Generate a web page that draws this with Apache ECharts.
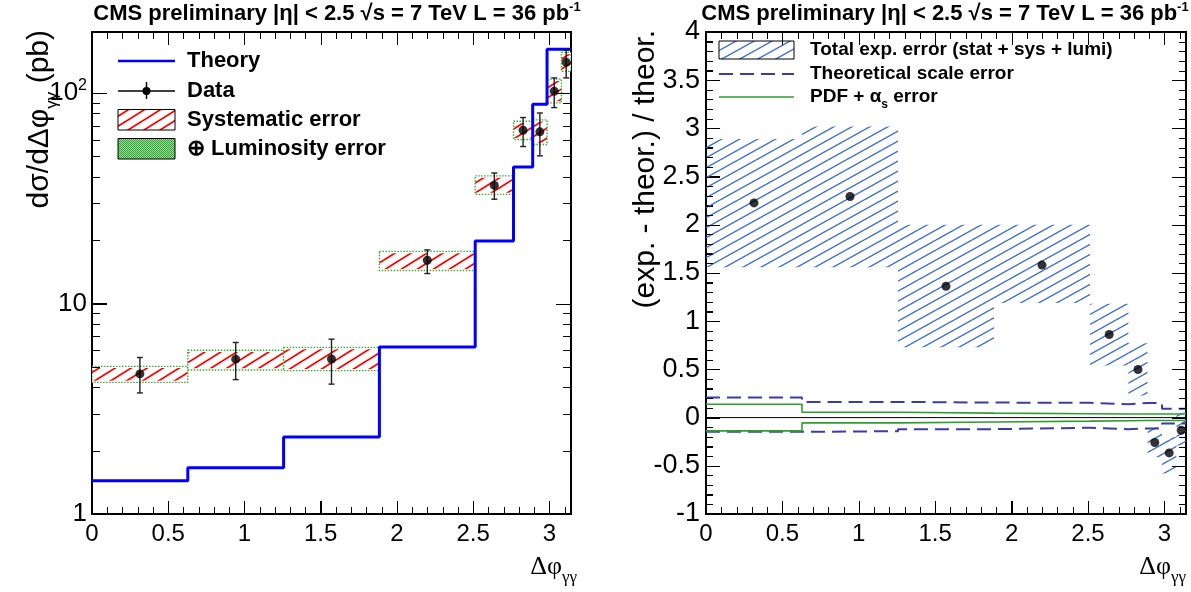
<!DOCTYPE html>
<html>
<head>
<meta charset="utf-8">
<script src="https://cdn.jsdelivr.net/npm/echarts@6/dist/echarts.min.js"></script>
<style>
  html, body { margin: 0; padding: 0; background: #fff; }
  #chart { width: 1191px; height: 592px; }
</style>
</head>
<body>
<div id="chart"></div>
<script>
const PI = Math.PI;

// Bin edges of Δφγγ, in units of π
const binEdgesPi = [0, 0.2, 0.4, 0.6, 0.8, 0.88, 0.92, 0.95, 0.98, 1.0];

// Left panel: dσ/dΔφγγ (pb)
const theoryXsec = [1.44, 1.66, 2.32, 6.22, 19.8, 44.5, 88.5, 161.5, 161.5];
const dataXsec   = [4.63, 5.44, 5.45, 16.06, 36.4, 66.6, 65.4, 102, 140];
const statLow    = [3.76, 4.35, 4.14, 13.88, 31.3, 55.7, 50.3, 85.3, 118];
const statHigh   = [5.54, 6.53, 6.77, 17.98, 41.7, 76.5, 80.4, 118, 159.7];
const sysLow     = [4.30, 4.92, 4.89, 14.6, 33.6, 61.2, 58.0, 91.5, 129.0];
const sysHigh    = [4.94, 5.88, 6.07, 17.35, 39.6, 72.0, 73.2, 114, 153];
const lumiLow    = [4.22, 4.83, 4.80, 14.35, 33.0, 60.2, 57.0, 89.8, 126.8];
const lumiHigh   = [5.03, 6.00, 6.19, 17.7, 40.4, 73.4, 74.6, 116.5, 156];

// Right panel: (exp. - theor.) / theor.
const ratioData    = [2.227, 2.293, 1.363, 1.582, 0.862, 0.499, -0.258, -0.366, -0.131];
const expErrLow    = [1.56, 1.56, 0.73, 1.19, 0.54, 0.23, -0.41, -0.58, -0.29];
const expErrHigh   = [2.89, 3.02, 2.00, 2.00, 1.18, 0.77, -0.10, -0.20, 0.05];
const scaleErrUp   = [0.209, 0.163, 0.156, 0.153, 0.139, 0.152, 0.152, 0.092, 0.092];
const scaleErrDown = [-0.148, -0.141, -0.120, -0.105, -0.120, -0.113, -0.113, -0.060, -0.060];
const pdfErrUp     = [0.139, 0.056, 0.046, 0.040, 0.037, 0.037, 0.037, 0.037, 0.037];
const pdfErrDown   = [-0.138, -0.055, -0.045, -0.037, -0.032, -0.030, -0.030, -0.030, -0.030];

// Axis tick values
const xMajorTicks = [0, 0.5, 1, 1.5, 2, 2.5, 3];
const xMinorTicks = [0.1, 0.2, 0.3, 0.4, 0.6, 0.7, 0.8, 0.9, 1.1, 1.2, 1.3, 1.4, 1.6, 1.7, 1.8, 1.9,
                     2.1, 2.2, 2.3, 2.4, 2.6, 2.7, 2.8, 2.9, 3.1];
const logMajorTicks = [10, 100];
const logMinorTicks = [2, 3, 4, 5, 6, 7, 8, 9, 20, 30, 40, 50, 60, 70, 80, 90];
const ratioTicks = [-0.9, -0.8, -0.7, -0.6, -0.5, -0.4, -0.3, -0.2, -0.1, 0, 0.1, 0.2, 0.3, 0.4, 0.5, 0.6, 0.7, 0.8, 0.9,
                    1, 1.1, 1.2, 1.3, 1.4, 1.5, 1.6, 1.7, 1.8, 1.9, 2, 2.1, 2.2, 2.3, 2.4, 2.5, 2.6, 2.7, 2.8, 2.9,
                    3, 3.1, 3.2, 3.3, 3.4, 3.5, 3.6, 3.7, 3.8, 3.9];
const yLogMax = 195;

const SANS = '"Liberation Sans", Arial, Helvetica, sans-serif';
const SERIF = '"Liberation Serif", "Times New Roman", serif';

const binEdges = binEdgesPi.map(f => f * PI);
const nBins = binEdges.length - 1;
const binCenters = [];
for (let i = 0; i < nBins; i++) binCenters.push((binEdges[i] + binEdges[i + 1]) / 2);

// ---- fill patterns ----
function hatchPattern(w, h, color, lw) {
  const c = document.createElement('canvas');
  c.width = w; c.height = h;
  const ctx = c.getContext('2d');
  ctx.strokeStyle = color;
  ctx.lineWidth = lw;
  for (const [dx, dy] of [[0, 0], [-w, 0], [w, 0], [0, -h], [0, h]]) {
    ctx.beginPath();
    ctx.moveTo(dx, h + dy);
    ctx.lineTo(w + dx, dy);
    ctx.stroke();
  }
  return { image: c, repeat: 'repeat' };
}
function checkerPattern(c1, c2) {
  const c = document.createElement('canvas');
  c.width = 2; c.height = 2;
  const ctx = c.getContext('2d');
  ctx.fillStyle = c2; ctx.fillRect(0, 0, 2, 2);
  ctx.fillStyle = c1; ctx.fillRect(0, 0, 1, 1); ctx.fillRect(1, 1, 1, 1);
  return { image: c, repeat: 'repeat' };
}
const redHatch = hatchPattern(16, 10, '#ff0000', 1.8);
const blueHatch = hatchPattern(18, 10, '#3b6fd4', 1.4);
const greenChecker = checkerPattern('#2e9e2e', '#9ee09e');

// ---- panels: the grid border draws the frame, bottom and left axes carry the labels ----
const PANELS = [
  { left: 92, top: 32, width: 479, height: 482 },
  { left: 706, top: 32, width: 480, height: 482 }
];
const frameLine = () => ({ show: true, onZero: false, lineStyle: { color: '#000', width: 2 } });

const xAxes = PANELS.map((p, gi) => ({
  gridIndex: gi, type: 'value', min: 0, max: PI, position: 'bottom', splitLine: { show: false },
  axisLine: frameLine(),
  axisTick: { show: true, inside: true, length: 13, customValues: xMajorTicks, lineStyle: { color: '#000', width: 1 } },
  axisLabel: { show: true, customValues: xMajorTicks, formatter: v => String(v),
               fontSize: 24, color: '#000', fontFamily: SANS, margin: 8 }
}));

const logLabel = v => {
  const r = Math.round(v);
  if (r === 1) return '1';
  if (r === 10) return '10';
  if (r === 100) return '10{sup|2}';
  return '';
};

const yAxes = [
  { gridIndex: 0, type: 'log', logBase: 10, min: 1, max: yLogMax, position: 'left', splitLine: { show: false },
    axisLine: frameLine(),
    axisTick: { show: true, inside: true, length: 15, lineStyle: { color: '#000', width: 1 } },
    axisLabel: { show: true, showMaxLabel: false, formatter: logLabel, fontSize: 26, color: '#000',
                 fontFamily: SANS, margin: 5,
                 rich: { sup: { fontSize: 16, verticalAlign: 'top', lineHeight: 30, fontFamily: SANS, color: '#000' } } } },
  { gridIndex: 1, type: 'value', min: -1, max: 4, interval: 0.5, position: 'left', splitLine: { show: false },
    axisLine: frameLine(),
    axisTick: { show: true, inside: true, length: 14, lineStyle: { color: '#000', width: 1 } },
    minorTick: { show: true, splitNumber: 5, length: 7, lineStyle: { color: '#000', width: 1 } },
    axisLabel: { show: true, formatter: v => String(v), fontSize: 27, color: '#000', fontFamily: SANS, margin: 6 } }
];

// ---- series ----
function stepData(values) {
  const d = values.map((v, i) => [binEdges[i], v]);
  d.push([binEdges[nBins], values[nBins - 1]]);
  return d;
}
function stepLine(name, gi, values, color, width, dash) {
  return {
    name, type: 'line', xAxisIndex: gi, yAxisIndex: gi, step: 'end',
    data: stepData(values), symbol: 'none', silent: true, z: 4,
    lineStyle: { color, width, type: dash || 'solid' }
  };
}
const binRows = binCenters.map((c, i) => [i, c]);

const series = [
  // systematic (hatched) and luminosity (dotted green) boxes
  {
    type: 'custom', xAxisIndex: 0, yAxisIndex: 0, silent: true, z: 2, clip: true,
    data: binRows,
    renderItem: (params, api) => {
      const i = api.value(0);
      const x0 = binEdges[i], x1 = binEdges[i + 1];
      const lTop = api.coord([x0, lumiHigh[i]]), lBot = api.coord([x1, lumiLow[i]]);
      const sTop = api.coord([x0, sysHigh[i]]), sBot = api.coord([x1, sysLow[i]]);
      return { type: 'group', children: [
        { type: 'rect', shape: { x: lTop[0], y: lTop[1], width: lBot[0] - lTop[0], height: lBot[1] - lTop[1] },
          style: { fill: '#fff' } },
        { type: 'rect', shape: { x: sTop[0], y: sTop[1], width: sBot[0] - sTop[0], height: sBot[1] - sTop[1] },
          style: { fill: redHatch } },
        { type: 'rect', shape: { x: lTop[0], y: lTop[1], width: lBot[0] - lTop[0], height: lBot[1] - lTop[1] },
          style: { fill: 'none', stroke: '#33b033', lineWidth: 1.4, lineDash: [1.5, 1.5] } }
      ] };
    }
  },
  stepLine('Theory', 0, theoryXsec, '#0000ff', 3),
  // statistical error bars
  {
    type: 'custom', xAxisIndex: 0, yAxisIndex: 0, silent: true, z: 5,
    data: binRows,
    renderItem: (params, api) => {
      const i = api.value(0);
      const x = binCenters[i];
      const pT = api.coord([x, statHigh[i]]), pB = api.coord([x, statLow[i]]);
      const st = { stroke: '#222', lineWidth: 1.4 };
      return { type: 'group', children: [
        { type: 'line', shape: { x1: pT[0], y1: pT[1], x2: pB[0], y2: pB[1] }, style: st },
        { type: 'line', shape: { x1: pT[0] - 3, y1: pT[1], x2: pT[0] + 3, y2: pT[1] }, style: st },
        { type: 'line', shape: { x1: pB[0] - 3, y1: pB[1], x2: pB[0] + 3, y2: pB[1] }, style: st }
      ] };
    }
  },
  {
    name: 'Data', type: 'scatter', xAxisIndex: 0, yAxisIndex: 0, z: 6, silent: true,
    data: dataXsec.map((v, i) => [binCenters[i], v]),
    symbol: 'circle', symbolSize: 9, itemStyle: { color: '#000' }
  },

  // total experimental error bands
  {
    type: 'custom', xAxisIndex: 1, yAxisIndex: 1, silent: true, z: 2, clip: true,
    data: binRows,
    renderItem: (params, api) => {
      const i = api.value(0);
      const pT = api.coord([binEdges[i], expErrHigh[i]]);
      const pB = api.coord([binEdges[i + 1], expErrLow[i]]);
      return { type: 'rect', shape: { x: pT[0], y: pT[1], width: pB[0] - pT[0], height: pB[1] - pT[1] },
               style: { fill: blueHatch } };
    }
  },
  {
    type: 'line', xAxisIndex: 1, yAxisIndex: 1, silent: true, z: 3, symbol: 'none',
    data: [[0, 0], [PI, 0]], lineStyle: { color: '#000', width: 1 }
  },
  stepLine('Theoretical scale error', 1, scaleErrUp, '#3c3ca8', 2, [14, 7]),
  stepLine('Theoretical scale error', 1, scaleErrDown, '#3c3ca8', 2, [14, 7]),
  stepLine('PDF + αs error', 1, pdfErrUp, '#2e9e2e', 1.6),
  stepLine('PDF + αs error', 1, pdfErrDown, '#2e9e2e', 1.6),
  {
    type: 'scatter', xAxisIndex: 1, yAxisIndex: 1, z: 6, silent: true,
    data: ratioData.map((v, i) => [binCenters[i], v]),
    symbol: 'circle', symbolSize: 9, itemStyle: { color: '#000' }
  }
];

// ---- titles, axis names and legends ----
const supRich = { sup: { fontSize: 13, verticalAlign: 'top', lineHeight: 26, fontWeight: 'bold', fontFamily: SANS, fill: '#000' } };
function titleText(x) {
  return {
    type: 'text', x, y: 14,
    style: { text: 'CMS preliminary |η| < 2.5 √s = 7 TeV L = 36 pb{sup|-1}', fill: '#000',
             fontWeight: 'bold', fontSize: 22, fontFamily: SANS,
             align: 'center', verticalAlign: 'middle', rich: supRich }
  };
}
const subRich = (size, subSize, fam) => ({
  sub: { fontSize: subSize, fontFamily: fam, verticalAlign: 'bottom', lineHeight: size + 12, fill: '#000' },
  n: { fontSize: size, fontFamily: fam, verticalAlign: 'middle', lineHeight: size + 12, fill: '#000' } });

const leftLegendText = (y, txt) => ({
  type: 'text', x: 187, y,
  style: { text: txt, fill: '#000', fontSize: 22, fontWeight: 'bold', fontFamily: SANS, verticalAlign: 'middle' }
});
const rightLegendText = (y, txt, rich) => ({
  type: 'text', x: 810, y,
  style: { text: txt, fill: '#000', fontSize: 19, fontWeight: 'bold', fontFamily: SANS, verticalAlign: 'middle', rich }
});

const graphics = [
  titleText(337),
  titleText(945),
  { type: 'text', x: 40, y: 30, rotation: PI / 2,
    style: { text: '{n|dσ/dΔφ}{sub|γγ}{n| (pb)}', align: 'right', verticalAlign: 'middle', rich: subRich(30, 17, SANS) } },
  { type: 'text', x: 646, y: 30, rotation: PI / 2,
    style: { text: '(exp. - theor.) / theor.', align: 'right', verticalAlign: 'middle', fill: '#000',
             fontSize: 30, fontFamily: SANS } },
  { type: 'text', x: 577, y: 567,
    style: { text: '{n|Δφ}{sub|γγ}', align: 'right', verticalAlign: 'middle', rich: subRich(26, 17, SERIF) } },
  { type: 'text', x: 1186, y: 567,
    style: { text: '{n|Δφ}{sub|γγ}', align: 'right', verticalAlign: 'middle', rich: subRich(26, 17, SERIF) } },

  { type: 'line', shape: { x1: 118, y1: 61, x2: 175, y2: 61 }, style: { stroke: '#0000ff', lineWidth: 2.5 } },
  leftLegendText(61, 'Theory'),
  { type: 'line', shape: { x1: 118, y1: 91, x2: 175, y2: 91 }, style: { stroke: '#000', lineWidth: 1.5 } },
  { type: 'line', shape: { x1: 146.5, y1: 82, x2: 146.5, y2: 99 }, style: { stroke: '#000', lineWidth: 1.5 } },
  { type: 'circle', shape: { cx: 146.5, cy: 91, r: 4 }, style: { fill: '#000' } },
  leftLegendText(91, 'Data'),
  { type: 'rect', shape: { x: 118, y: 109.5, width: 57, height: 20.5 }, style: { fill: redHatch, stroke: '#000', lineWidth: 1 } },
  leftLegendText(120, 'Systematic error'),
  { type: 'rect', shape: { x: 118, y: 138.5, width: 57, height: 20.5 }, style: { fill: greenChecker, stroke: '#000', lineWidth: 1 } },
  leftLegendText(149, '⊕ Luminosity error'),

  { type: 'rect', shape: { x: 719, y: 41, width: 75, height: 18 }, style: { fill: blueHatch, stroke: '#000', lineWidth: 1 } },
  rightLegendText(50, 'Total exp. error (stat + sys + lumi)'),
  { type: 'line', shape: { x1: 719, y1: 74, x2: 794, y2: 74 }, style: { stroke: '#3c3ca8', lineWidth: 2, lineDash: [14, 7] } },
  rightLegendText(74, 'Theoretical scale error'),
  { type: 'line', shape: { x1: 719, y1: 97, x2: 794, y2: 97 }, style: { stroke: '#2e9e2e', lineWidth: 1.6 } },
  rightLegendText(97, 'PDF + α{sub|s} error',
    { sub: { fontSize: 12, fontWeight: 'bold', fontFamily: SANS, verticalAlign: 'bottom', lineHeight: 28, fill: '#000' } })
];

const chart = echarts.init(document.getElementById('chart'), null, { renderer: 'canvas' });
chart.setOption({
  animation: false,
  backgroundColor: '#fff',
  grid: PANELS.map(p => Object.assign({
    outerBoundsMode: 'none', containLabel: false,
    show: true, borderColor: '#000', borderWidth: 2, backgroundColor: 'transparent'
  }, p)),
  xAxis: xAxes,
  yAxis: yAxes,
  series,
  graphic: graphics
});

// Tick marks on the top and right frame sides and the minor ticks, positioned through the axes' scales.
function tickMarks() {
  const els = [];
  const seg = (x1, y1, x2, y2) => els.push({ type: 'line', silent: true, z: 50,
    shape: { x1, y1, x2, y2 }, style: { stroke: '#000', lineWidth: 1 } });
  const px = (gi, v) => Math.round(chart.convertToPixel({ xAxisIndex: gi }, v)) + 0.5;
  const py = (gi, v) => Math.round(chart.convertToPixel({ yAxisIndex: gi }, v)) + 0.5;
  PANELS.forEach((p, gi) => {
    const top = p.top, bot = p.top + p.height;
    xMajorTicks.forEach(v => { const x = px(gi, v); seg(x, top, x, top + 13); seg(x, bot, x, bot - 13); });
    xMinorTicks.forEach(v => { const x = px(gi, v); seg(x, top, x, top + 7); seg(x, bot, x, bot - 7); });
  });
  const p0 = PANELS[0], r0 = p0.left + p0.width;
  logMajorTicks.forEach(v => { const y = py(0, v); seg(p0.left, y, p0.left + 15, y); seg(r0, y, r0 - 15, y); });
  logMinorTicks.forEach(v => { const y = py(0, v); seg(p0.left, y, p0.left + 8, y); seg(r0, y, r0 - 8, y); });
  const p1 = PANELS[1], r1 = p1.left + p1.width;
  ratioTicks.forEach(v => {
    const y = py(1, v);
    const len = Math.abs(v * 2 - Math.round(v * 2)) < 1e-6 ? 14 : 7;
    seg(p1.left, y, p1.left + len, y);
    seg(r1, y, r1 - len, y);
  });
  return els;
}
chart.setOption({ graphic: graphics.concat(tickMarks()) });
</script>
</body>
</html>
